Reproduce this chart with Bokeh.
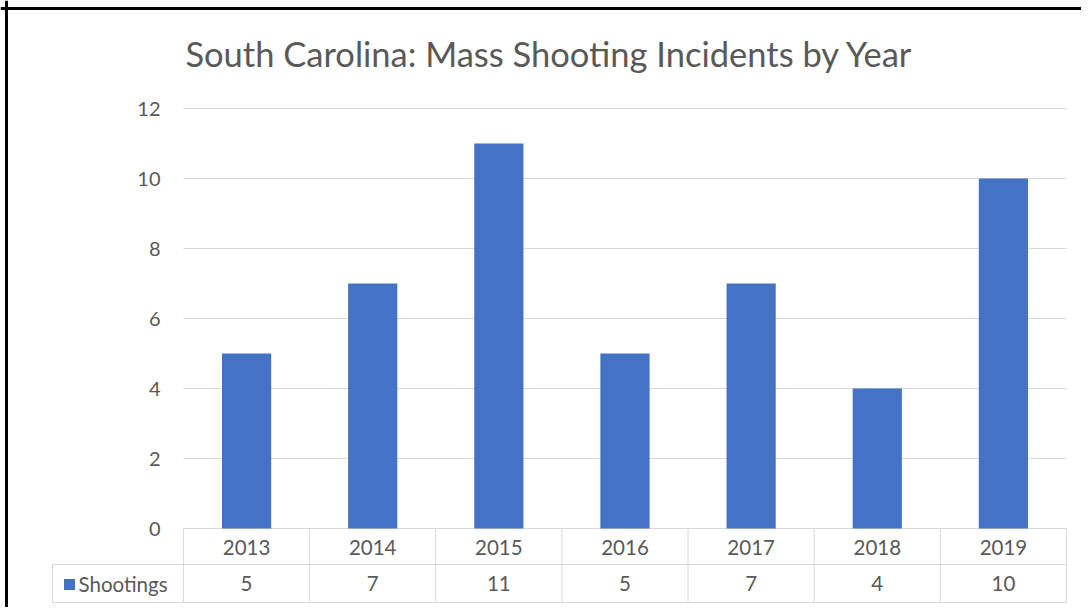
from bokeh.plotting import figure
from bokeh.models import Range1d, Span
from bokeh.core.properties import value
from bokeh.embed import file_html
from bokeh.resources import INLINE

# ---- data ----
years = ["2013", "2014", "2015", "2016", "2017", "2018", "2019"]
shootings = [5, 7, 11, 5, 7, 4, 10]
y_ticks = [0, 2, 4, 6, 8, 10, 12]
series_name = "Shootings"
title_text = "South Carolina: Mass Shooting Incidents by Year"

# ---- layout (screen-pixel based scale) ----
W, H = 1081, 607
OFF = 0
PLOT_LEFT_PX = 183.0
CAT_PX = 126.14
ZERO_PX = 528.0
UNIT_PX = 35.0

x_start = (OFF - PLOT_LEFT_PX) / CAT_PX
x_end = (OFF + W - PLOT_LEFT_PX) / CAT_PX
y_start = (ZERO_PX - (OFF + H)) / UNIT_PX
y_end = (ZERO_PX - OFF) / UNIT_PX

def sx(px):
    return (px - PLOT_LEFT_PX) / CAT_PX

def sy(py):
    return (ZERO_PX - py) / UNIT_PX

FONT = value("Lato")
GREY = "#595959"
LINE = "#d9d9d9"
BLUE = "#4472C4"

p = figure(width=W, height=H, output_backend="svg", toolbar_location=None,
           x_range=Range1d(x_start, x_end), y_range=Range1d(y_start, y_end),
           x_axis_location=None, y_axis_location=None, min_border=0,
           outline_line_color=None, background_fill_color="white")
p.grid.visible = False

n = len(years)
centers = [i + 0.5 for i in range(n)]

# gridlines
p.segment(x0=[0] * len(y_ticks), x1=[n] * len(y_ticks), y0=y_ticks, y1=y_ticks,
          line_color=LINE, line_width=1)

# y tick labels
p.text(x=[sx(160)] * len(y_ticks), y=y_ticks, text=[str(t) for t in y_ticks],
       text_font=FONT, text_font_size="20px", text_color=GREY,
       text_align="right", text_baseline="middle")

# bars
p.vbar(x=centers, top=shootings, bottom=0, width=0.39, fill_color=BLUE, line_color=None)

# data table
row1 = sy(564)
row2 = sy(602)
p.segment(x0=[sx(52), sx(52)], x1=[n, n], y0=[row1, row2], y1=[row1, row2],
          line_color=LINE, line_width=1)
p.segment(x0=list(range(n + 1)), x1=list(range(n + 1)), y0=[0] * (n + 1), y1=[row2] * (n + 1),
          line_color=LINE, line_width=1)
p.segment(x0=[sx(52)], x1=[sx(52)], y0=[row1], y1=[row2], line_color=LINE, line_width=1)

p.text(x=centers, y=[sy(547)] * n, text=years, text_font=FONT, text_font_size="20.5px",
       text_color=GREY, text_align="center", text_baseline="middle")
p.text(x=centers, y=[sy(583)] * n, text=[str(v) for v in shootings], text_font=FONT,
       text_font_size="20.5px", text_color=GREY, text_align="center", text_baseline="middle")

# legend key in table
p.rect(x=[sx(69)], y=[sy(584)], width=11 / CAT_PX, height=11 / UNIT_PX,
       fill_color=BLUE, line_color=None)
p.text(x=[sx(78)], y=[sy(583)], text=[series_name], text_font=FONT, text_font_size="20.5px",
       text_color=GREY, text_align="left", text_baseline="middle")

# title
p.text(x=[sx(549)], y=[sy(53)], text=[title_text], text_font=FONT, text_font_size="34.5px",
       text_color=GREY, text_align="center", text_baseline="middle")

# chart border (left and top visible)
p.add_layout(Span(location=sx(6), dimension="height", line_color="black", line_width=3))
p.add_layout(Span(location=sy(8), dimension="width", line_color="black", line_width=3))

open("out.html", "w").write(file_html(p, INLINE))
